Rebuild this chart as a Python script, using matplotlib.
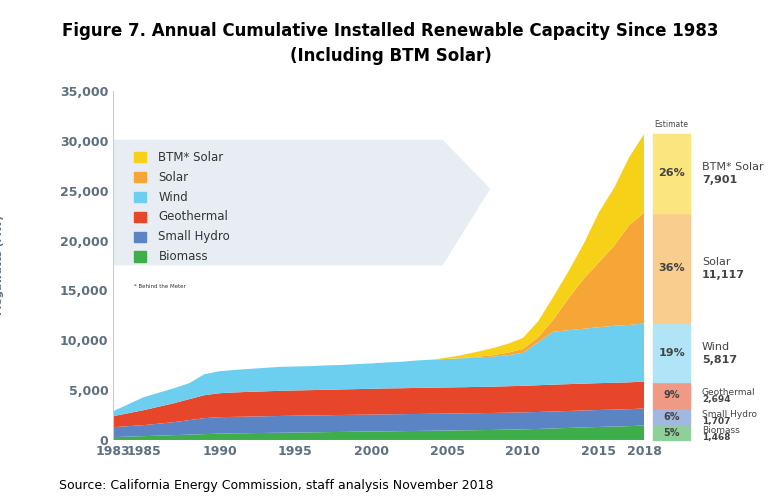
import numpy as np
import matplotlib.pyplot as plt
from matplotlib.patches import Polygon, Rectangle

years = list(range(1983, 2019))
biomass = [300,350,400,450,500,550,600,650,680,700,720,740,760,780,800,820,840,860,880,900,920,940,960,980,1000,1020,1050,1080,1120,1170,1220,1270,1320,1360,1400,1468]
hydro = [1000,1050,1100,1200,1300,1450,1600,1650,1650,1660,1670,1680,1690,1690,1690,1700,1700,1700,1700,1700,1700,1700,1700,1700,1700,1700,1700,1700,1700,1700,1700,1700,1700,1700,1700,1707]
geo = [1100,1300,1500,1700,1900,2100,2300,2400,2450,2480,2500,2520,2530,2540,2550,2560,2570,2580,2600,2600,2610,2620,2620,2620,2630,2640,2650,2660,2680,2690,2690,2690,2690,2690,2690,2694]
wind = [500,900,1300,1400,1500,1600,2100,2200,2250,2300,2350,2400,2400,2400,2450,2450,2500,2550,2600,2650,2750,2800,2850,2900,2950,3000,3100,3300,4300,5300,5400,5500,5600,5700,5750,5817]
solar = [0]*23 + [30,80,150,250,400,500,1200,3200,5000,6500,8000,10000,11117]
btm = [0]*22 + [150,300,500,700,900,1100,1600,2300,2700,3500,5000,5800,6800,7901]
series = [biomass, hydro, geo, wind, solar, btm]
names = ['Biomass','Small Hydro','Geothermal','Wind','Solar','BTM* Solar']
colors = ['#3DAE49','#5B84C4','#E8462A','#6DCFF0','#F5A637','#F7D117']
light = ['#8fd09a','#a3b8e0','#f09a85','#b0e4f6','#f9cd8e','#fbe57f']
pcts = ['5%','6%','9%','19%','36%','26%']
vals = ['1,468','1,707','2,694','5,817','11,117','7,901']
slate = '#5d6f80'

fig = plt.figure(figsize=(7.81,4.99), dpi=100)
ax = fig.add_axes([0.145, 0.118, 0.68, 0.70])
ax.stackplot(years, *series, colors=colors, linewidth=0)
ax.set_xlim(1983, 2018)
ax.set_ylim(0, 35000)
ax.set_xticks([1983,1985,1990,1995,2000,2005,2010,2015,2018])
ax.set_yticks(range(0,35001,5000))
ax.set_yticklabels([f'{v:,}' for v in range(0,35001,5000)])
ax.tick_params(colors=slate, labelsize=9, length=0)
for t in ax.get_xticklabels()+ax.get_yticklabels():
    t.set_fontweight('bold')
for s in ax.spines.values():
    s.set_visible(False)
ax.axvline(1983, color='#cccccc', lw=0.8)
ax.axhline(0, color='#cccccc', lw=0.8)
ax.set_ylabel('Megawatts (MW)', color=slate, fontsize=7.5, fontweight='bold', labelpad=40)

# legend panel
ax.add_patch(Polygon([[0,0.5],[0.62,0.5],[0.71,0.72],[0.62,0.86],[0,0.86]], closed=True,
                     transform=ax.transAxes, facecolor='#e8edf3', edgecolor='none', zorder=0.5))
for i, (n, c) in enumerate(zip(names[::-1], colors[::-1])):
    y = 0.81 - i*0.057
    ax.add_patch(Rectangle((0.04, y-0.015), 0.022, 0.03, transform=ax.transAxes, color=c))
    ax.text(0.085, y, n, transform=ax.transAxes, va='center', fontsize=8.5, color='#333333')
ax.text(0.04, 0.435, '* Behind the Meter', transform=ax.transAxes, fontsize=4, color='#333333')

# estimate bar
cum = np.cumsum([s[-1] for s in series])
bottom = 0
x0, w = 2018.6, 2.4
for i in range(6):
    top = cum[i]
    ax.add_patch(Rectangle((x0, bottom), w, top-bottom, color=light[i], clip_on=False))
    mid = (bottom+top)/2
    ax.text(x0+w/2, mid, pcts[i], ha='center', va='center', fontsize=8 if i > 2 else 7,
            fontweight='bold', color='#444444', clip_on=False)
    lab = 'BTM* Solar' if i == 5 else names[i]
    big = i >= 3
    ax.text(x0+w+0.8, mid+(600 if big else 250), lab, fontsize=8 if big else 6.5,
            color='#444444', va='center', clip_on=False)
    ax.text(x0+w+0.8, mid-(700 if big else 450), vals[i], fontsize=8 if big else 6.5,
            fontweight='bold', color='#444444', va='center', clip_on=False)
    bottom = top
ax.text(x0+w/2, 31400, 'Estimate', ha='center', fontsize=5.5, color='#444444', clip_on=False)

fig.text(0.5, 0.955, 'Figure 7. Annual Cumulative Installed Renewable Capacity Since 1983\n(Including BTM Solar)',
         ha='center', va='top', fontsize=12, fontweight='bold', linespacing=1.5)
fig.text(0.075, 0.02, 'Source: California Energy Commission, staff analysis November 2018', fontsize=9)
fig.savefig('out.png')
